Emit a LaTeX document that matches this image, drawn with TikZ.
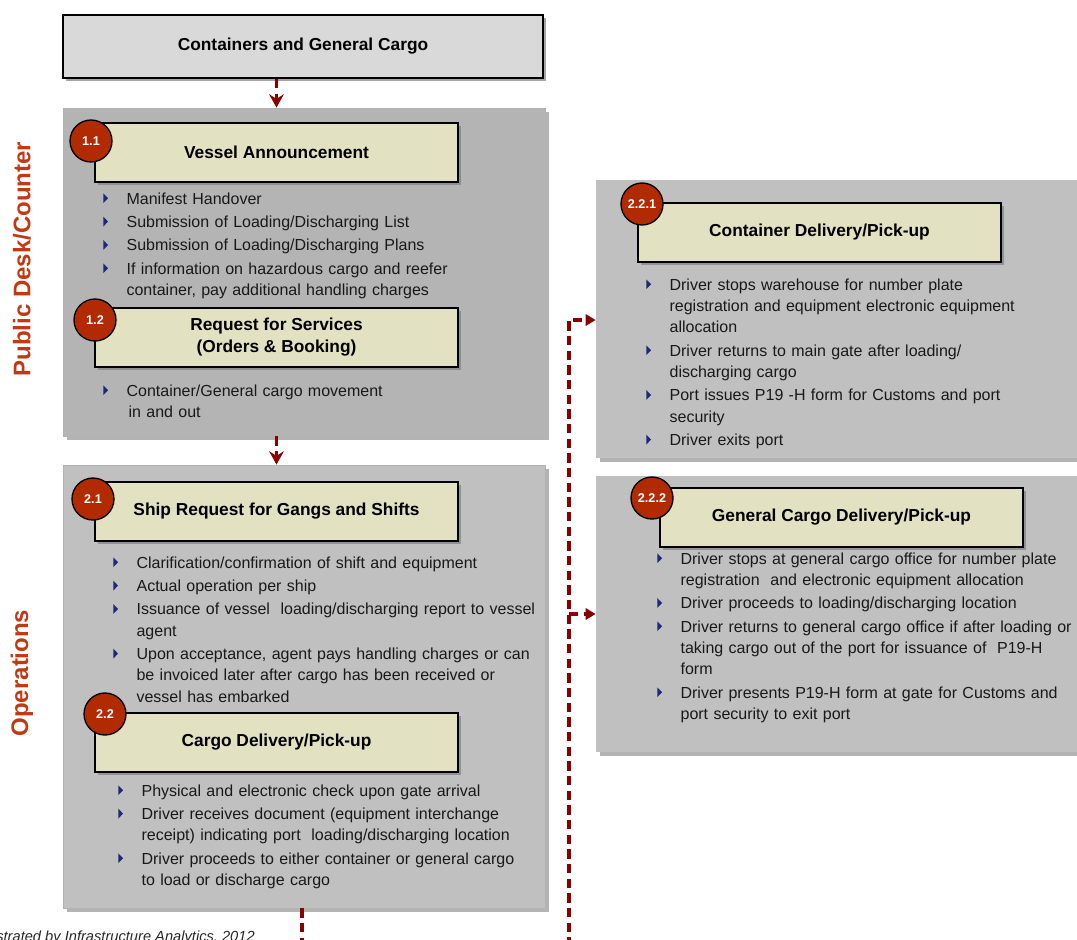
\documentclass[tikz,border=0pt]{standalone}
\usepackage{fontspec}
\setmainfont{Liberation Sans}
\usepackage{tikz}
\usetikzlibrary{arrows.meta,positioning,shadows,calc}
\definecolor{portred}{RGB}{178,42,0}
\definecolor{sidered}{RGB}{192,57,20}
\definecolor{flowred}{RGB}{136,0,0}
\definecolor{titlefill}{RGB}{226,225,193}
\definecolor{panelgray}{RGB}{192,192,192}
\definecolor{paneldark}{RGB}{180,180,180}
\definecolor{headgray}{RGB}{217,217,217}
\definecolor{bulblue}{RGB}{30,40,120}
\definecolor{txtgray}{RGB}{25,25,25}
\newlength\bulind
\setlength\bulind{17.5pt}
\newcommand\bulmark{\tikz[baseline=0pt,x=1pt,y=1pt]\fill[bulblue] (0,0.6)--(3.6,4.3)--(0,8)--cycle;}
\newcommand\bfirst{\parskip=1.5pt\noindent\hangindent=\bulind\hangafter=1\makebox[\bulind][l]{\bulmark}}
\newcommand\bitem{\par\bfirst}

\begin{document}
\begin{tikzpicture}[
  x=0.75pt,y=-0.75pt,
  panel/.style={fill=panelgray,draw=black!30,line width=0.6pt,inner sep=0pt,
    drop shadow={shadow xshift=3pt,shadow yshift=-3pt,opacity=0.6}},
  stepbox/.style={draw=black,line width=1.5pt,fill=titlefill,align=center,
    minimum width=272.25pt,minimum height=44.25pt,inner sep=0pt,
    font=\bfseries\fontsize{13}{16.5}\selectfont,
    drop shadow={shadow xshift=2.5pt,shadow yshift=-2.5pt,opacity=0.7}},
  badge/.style={circle,draw=black,line width=1pt,fill=portred,text=white,
    minimum size=31.5pt,inner sep=0pt,font=\bfseries\fontsize{9.5}{9.5}\selectfont},
  bullets/.style={anchor=base west,inner sep=0pt,text width=420pt,align=left,
    text=txtgray,font=\fontsize{12}{16}\selectfont},
  sidelabel/.style={rotate=90,text=sidered,font=\bfseries\fontsize{18}{20}\selectfont},
  flow/.style={draw=flowred,line width=2.6pt,dash pattern=on 7pt off 4pt},
  downtip/.style={-{Stealth[length=10pt,width=11pt,inset=3.5pt]}},
  sidetip/.style={-{Triangle[length=7.5pt,width=8.5pt]}}
]
  \useasboundingbox (0,0) rectangle (1077,939);
  % header
  \node[draw=black,line width=1.5pt,fill=headgray,minimum width=360pt,minimum height=47.25pt,
    font=\bfseries\fontsize{13}{16}\selectfont,
    drop shadow={shadow xshift=2.5pt,shadow yshift=-2.5pt,opacity=0.7}] (top) at (303,46.5) {Containers and General Cargo};
  % side labels
  \node[sidelabel] (lbdesk) at (22,259) {Public Desk/Counter};
  \node[sidelabel] (lbops) at (22,673) {Operations};
  % panels
  \node[panel,fill=paneldark,minimum width=361.5pt,minimum height=246pt] (p1) at (304,272) {};
  \node[panel,minimum width=361.5pt,minimum height=332.25pt] (p2) at (304,686.5) {};
  \node[panel,draw=none,minimum width=370.5pt,minimum height=208.5pt] (pa) at (843,319) {};
  \node[panel,draw=none,minimum width=370.5pt,minimum height=207pt] (pb) at (843,614) {};
  % Public desk steps
  \node[stepbox] (va) at (276.5,152.5) {Vessel Announcement};
  \node[badge] (b11) at (91,141) {1.1};
  \node[bullets] (l11) at (103,204) {\bfirst Manifest Handover
    \bitem Submission of Loading/Discharging List
    \bitem Submission of Loading/Discharging Plans
    \bitem If information on hazardous cargo and reefer\newline container, pay additional handling charges\par};
  \node[stepbox] (rs) at (276.5,337.5) {Request for Services\\(Orders \& Booking)};
  \node[badge] (b12) at (95,320) {1.2};
  \node[bullets] (l12) at (103,396) {\bfirst Container/General cargo movement\newline\hspace*{1.5pt}in and out\par};
  % Operations steps
  \node[stepbox] (sr) at (276.5,511) {Ship Request for Gangs and Shifts};
  \node[badge] (b21) at (93,499) {2.1};
  \node[bullets] (l21) at (113,568) {\bfirst Clarification/confirmation of shift and equipment
    \bitem Actual operation per ship
    \bitem Issuance of vessel\ \ loading/discharging report to vessel\newline agent
    \bitem Upon acceptance, agent pays handling charges or can\newline be invoiced later after cargo has been received or\newline vessel has embarked\par};
  \node[stepbox] (cd) at (276.5,742.5) {Cargo Delivery/Pick-up};
  \node[badge] (b22) at (105,714) {2.2};
  \node[bullets] (l22) at (118,796) {\bfirst Physical and electronic check upon gate arrival
    \bitem Driver receives document (equipment interchange\newline receipt) indicating port\ \ loading/discharging location
    \bitem Driver proceeds to either container or general cargo\newline to load or discharge cargo\par};
  % delivery branches
  \node[stepbox] (ccd) at (819.5,232.5) {Container Delivery/Pick-up};
  \node[badge] (b221) at (642,204) {2.2.1};
  \node[bullets] (l221) at (646,290) {\bfirst Driver stops warehouse for number plate\newline registration and equipment electronic equipment\newline allocation
    \bitem Driver returns to main gate after loading/\newline discharging cargo
    \bitem Port issues P19 -H form for Customs and port\newline security
    \bitem Driver exits port\par};
  \node[stepbox] (gcd) at (841.5,517) {General Cargo Delivery/Pick-up};
  \node[badge] (b222) at (652,498) {2.2.2};
  \node[bullets] (l222) at (657,564) {\bfirst Driver stops at general cargo office for number plate\newline registration\ \ and electronic equipment allocation
    \bitem Driver proceeds to loading/discharging location
    \bitem Driver returns to general cargo office if after loading or\newline taking cargo out of the port for issuance of\ \ P19-H\newline form
    \bitem Driver presents P19-H form at gate for Customs and\newline port security to exit port\par};
  % connectors
  \coordinate (jb1) at (302,948);
  \coordinate (jb2) at (569,948);
  \coordinate (jt) at (569,320);
  \coordinate (jm) at (569,614);
  \draw[flow,downtip] (top.south -| va.center) -- (p1.north -| va.center);
  \draw[flow,downtip] (p1.south -| rs.center) -- (p2.north -| rs.center);
  \draw[flow,sidetip] (p2.south -| jb1) -- (jb1) -- (jb2) -- (jt) -- (jt -| pa.west);
  \draw[flow,sidetip] (jm) -- (jm -| pb.west);
  % credit line
  \node[anchor=base east,inner sep=0pt,text=black!85,font=\itshape\fontsize{11}{13}\selectfont] (credit) at (255,941) {Illustrated by Infrastructure Analytics, 2012};
\end{tikzpicture}
\end{document}
